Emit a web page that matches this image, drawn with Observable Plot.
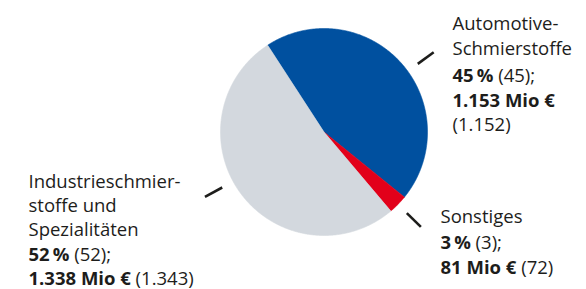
<!DOCTYPE html>
<html>
<head>
<meta charset="utf-8">
<script src="https://cdn.jsdelivr.net/npm/d3@7"></script>
<script src="https://cdn.jsdelivr.net/npm/@observablehq/plot@0.6"></script>
<style>
  html, body { margin: 0; padding: 0; background: #fff; }
  #chart svg { display: block; }
</style>
</head>
<body>
<div id="chart"></div>
<script>
// ---- data ----
const categories = ["Automotive-Schmierstoffe", "Sonstiges", "Industrieschmierstoffe und Spezialitäten"];
const labelLines = [["Automotive-", "Schmierstoffe"], ["Sonstiges"], ["Industrieschmier-", "stoffe und", "Spezialitäten"]];
const shares = [45, 3, 52];
const sharesPrev = [45, 3, 52];
const revenue = [1153, 81, 1338];
const revenuePrev = [1152, 72, 1343];
const colors = ["#00509f", "#e2001a", "#d3d8de"];

// ---- layout (styles / positions) ----
const W = 586, H = 289;
const cx = 323.5, cy = 131.5, R = 103.5;
const startDeg = -33;
const FONT = '"Open Sans", "Noto Sans", sans-serif';
const FS = 18.5;
const TEXT = "#1d1d1b";
const labelLayout = [
  {x: 452, baselines: [29, 54, 81, 106, 130], wrapRevenue: true, leaderOffset: 6},
  {x: 440, baselines: [222, 248, 273], wrapRevenue: false, leaderOffset: 0},
  {x: 28, baselines: [187, 211, 235, 260, 284], wrapRevenue: false, leaderOffset: 8}
];

const loc = d3.formatLocale({decimal: ",", thousands: ".", grouping: [3], currency: ["", "€"]});
const fmt = loc.format(",");

// pie geometry in unit coordinates (1 = radius)
const total = d3.sum(shares);
let acc = startDeg * Math.PI / 180;
const slices = shares.map((s, i) => {
  const a0 = acc, a1 = acc + s / total * 2 * Math.PI;
  acc = a1;
  return {key: categories[i], a0, a1};
});
const piePts = [];
slices.forEach(sl => {
  const n = Math.max(4, Math.ceil((sl.a1 - sl.a0) / (0.4 * Math.PI / 180)));
  piePts.push({key: sl.key, x: 0, y: 0});
  for (let k = 0; k <= n; k++) {
    const a = sl.a0 + (sl.a1 - sl.a0) * k / n;
    piePts.push({key: sl.key, x: Math.sin(a), y: Math.cos(a)});
  }
  piePts.push({key: sl.key, x: 0, y: 0});
});
const leaders = slices.map((sl, i) => {
  const a = (sl.a0 + sl.a1) / 2 + labelLayout[i].leaderOffset * Math.PI / 180;
  return {x1: 1.12 * Math.sin(a), y1: 1.12 * Math.cos(a), x2: 1.31 * Math.sin(a), y2: 1.31 * Math.cos(a)};
});

// text segments
const canvas = document.createElement("canvas");
const ctx = canvas.getContext("2d");
function measure(t, bold) {
  ctx.font = `${bold ? 700 : 400} ${FS}px ${FONT}`;
  return ctx.measureText(t).width;
}
const segMarks = [];
categories.forEach((c, i) => {
  const L = labelLayout[i];
  const lines = labelLines[i].map(t => [{t, b: false}]);
  lines.push([{t: `${shares[i]}\u2009%`, b: true}, {t: ` (${sharesPrev[i]});`, b: false}]);
  if (L.wrapRevenue) {
    lines.push([{t: `${fmt(revenue[i])} Mio €`, b: true}]);
    lines.push([{t: `(${fmt(revenuePrev[i])})`, b: false}]);
  } else {
    lines.push([{t: `${fmt(revenue[i])} Mio €`, b: true}, {t: ` (${fmt(revenuePrev[i])})`, b: false}]);
  }
  lines.forEach((segs, li) => {
    let off = 0;
    segs.forEach(sg => {
      segMarks.push(Plot.text([sg.t], {
        text: d => d,
        frameAnchor: "top-left",
        textAnchor: "start",
        lineAnchor: "bottom",
        dx: L.x + off,
        dy: L.baselines[li],
        fontSize: FS,
        fontWeight: sg.b ? 700 : 400,
        fill: TEXT
      }));
      off += measure(sg.t, sg.b);
    });
  });
});

const chart = Plot.plot({
  width: W,
  height: H,
  margin: 0,
  style: {fontFamily: FONT, background: "#fff"},
  x: {domain: [-cx / R, (W - cx) / R], axis: null},
  y: {domain: [-(H - cy) / R, cy / R], axis: null},
  color: {domain: categories, range: colors},
  marks: [
    Plot.line(piePts, {x: "x", y: "y", z: "key", fill: "key", stroke: "key", strokeWidth: 0.6, curve: "linear"}),
    Plot.link(leaders, {x1: "x1", y1: "y1", x2: "x2", y2: "y2", stroke: "#1d1d1b", strokeWidth: 2.6}),
    ...segMarks
  ]
});
document.getElementById("chart").appendChild(chart);
</script>
</body>
</html>
